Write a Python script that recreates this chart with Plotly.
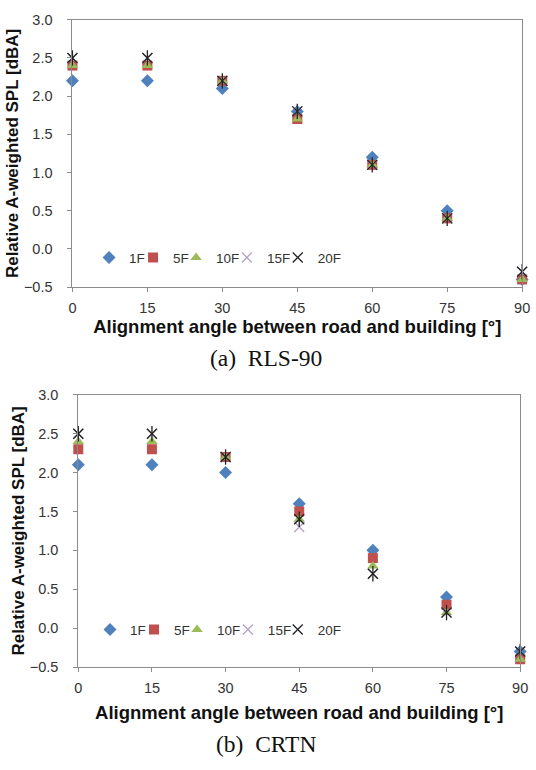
import plotly.graph_objects as go

angles = [0, 15, 30, 45, 60, 75, 90]
series_names = ["1F", "5F", "10F", "15F", "20F"]

rls_1F = [2.2, 2.2, 2.1, 1.8, 1.2, 0.5, -0.4]
rls_5F = [2.4, 2.4, 2.2, 1.7, 1.1, 0.4, -0.4]
rls_10F = [2.4, 2.4, 2.2, 1.7, 1.1, 0.4, -0.4]
rls_15F = [2.5, 2.5, 2.2, 1.8, 1.1, 0.4, -0.3]
rls_20F = [2.5, 2.5, 2.2, 1.8, 1.1, 0.4, -0.3]

crtn_1F = [2.1, 2.1, 2.0, 1.6, 1.0, 0.4, -0.3]
crtn_5F = [2.3, 2.3, 2.2, 1.5, 0.9, 0.3, -0.4]
crtn_10F = [2.4, 2.4, 2.2, 1.4, 0.8, 0.2, -0.4]
crtn_15F = [2.5, 2.5, 2.2, 1.3, 0.7, 0.2, -0.3]
crtn_20F = [2.5, 2.5, 2.2, 1.4, 0.7, 0.2, -0.3]

x_ticks = [0, 15, 30, 45, 60, 75, 90]
y_ticks = [-0.5, 0.0, 0.5, 1.0, 1.5, 2.0, 2.5, 3.0]

styles = {
    "1F": dict(symbol="diamond", color="#4F81BD", size=10),
    "5F": dict(symbol="square", color="#C0504D", size=10),
    "10F": dict(symbol="triangle-up", color="#9BBB59", size=10),
    "15F": dict(symbol="x-thin-open", color="#B3A2C7", size=10),
    "20F": dict(symbol="x-thin-open", color="#222222", size=10),
}

H = 770.0
W = 536.0

# legend box left edges (px) for each panel, and vertical centre
legend_x_a = [87, 132, 176, 228, 280]
legend_x_b = [88, 133, 177, 229, 280]
legend_y_a = 255
legend_y_b = 635

fig = go.Figure()

panels = [
    ("x", "y", 0, [rls_1F, rls_5F, rls_10F, rls_15F, rls_20F]),
    ("x2", "y2", 5, [crtn_1F, crtn_5F, crtn_10F, crtn_15F, crtn_20F]),
]
for xa, ya, off, data in panels:
    for i, (name, vals) in enumerate(zip(series_names, data)):
        lg = "legend%d" % (off + i + 2)
        st = styles[name]
        marker = dict(symbol=st["symbol"], size=st["size"], color=st["color"])
        if "open" in st["symbol"]:
            marker["line"] = dict(color=st["color"], width=1.3)
        else:
            marker["line"] = dict(width=0)
        fig.add_trace(go.Scatter(
            x=angles, y=vals, mode="markers", name=name, marker=marker,
            xaxis=xa, yaxis=ya, legend=lg, legendgroup=lg, cliponaxis=False,
            showlegend=True,
        ))
        if name == "20F":
            # vertical stroke completing the asterisk-like marker
            fig.add_trace(go.Scatter(
                x=angles, y=vals, mode="markers", name=name, showlegend=False,
                marker=dict(symbol="line-ns-open", size=11, color=st["color"],
                            line=dict(color=st["color"], width=1.3)),
                xaxis=xa, yaxis=ya, legend=lg, legendgroup=lg, cliponaxis=False,
            ))

tick_font = dict(family="Liberation Sans, Arial", size=14.5, color="#333333")
axis_common = dict(
    showgrid=False, zeroline=False, showline=True, linecolor="#8C8C8C",
    linewidth=1, mirror=True, ticks="outside", ticklen=4, tickcolor="#8C8C8C",
    tickfont=tick_font, ticklabeloverflow="allow",
)
xtitle_font = dict(family="Liberation Sans, Arial", size=18.5, color="#111111")
ytitle_font = dict(family="Liberation Sans, Arial", size=17, color="#111111")
xtitle = "<b>Alignment angle between road and building [°]</b>"
ytitle = "<b>Relative A-weighted SPL [dBA]</b>"

legend_common = dict(orientation="h", xanchor="left", yanchor="middle",
                     bgcolor="rgba(0,0,0,0)", itemwidth=30, tracegroupgap=0,
                     font=dict(family="Liberation Sans, Arial", size=13.5, color="#333333"))
legends = {}
for i, px in enumerate(legend_x_a + legend_x_b):
    key = "legend%d" % (i + 2)
    py = legend_y_a if i < 5 else legend_y_b
    legends[key] = dict(x=px / W, y=1 - py / H, **legend_common)

fig.update_layout(
    width=536, height=770, margin=dict(l=0, r=0, t=0, b=0),
    paper_bgcolor="white", plot_bgcolor="white", showlegend=True,
    xaxis=dict(domain=[70 / W, 530 / W], range=[0, 90], tickvals=x_ticks,
               anchor="y", ticklabelstandoff=4,
               title=dict(text=xtitle, font=xtitle_font, standoff=4), **axis_common),
    yaxis=dict(domain=[1 - 285 / H, 1 - 12 / H], range=[-0.5, 3.0], tickvals=y_ticks,
               tickformat=".1f", anchor="x", ticklabelstandoff=12,
               title=dict(text=ytitle, font=ytitle_font, standoff=0), **axis_common),
    xaxis2=dict(domain=[76 / W, 528 / W], range=[0, 90], tickvals=x_ticks,
                anchor="y2", ticklabelstandoff=4,
                title=dict(text=xtitle, font=xtitle_font, standoff=10), **axis_common),
    yaxis2=dict(domain=[1 - 673 / H, 1 - 395 / H], range=[-0.5, 3.0], tickvals=y_ticks,
                tickformat=".1f", anchor="x2", ticklabelstandoff=12,
                title=dict(text=ytitle, font=ytitle_font, standoff=0), **axis_common),
    annotations=[
        dict(text="(a)  RLS-90", x=0.5, y=1 - 357 / H, xref="paper", yref="paper",
             xanchor="center", yanchor="middle", showarrow=False,
             font=dict(family="Liberation Serif, Times New Roman", size=23.5, color="#111111")),
        dict(text="(b)  CRTN", x=0.5, y=1 - 752 / H, xref="paper", yref="paper",
             xanchor="center", yanchor="middle", showarrow=False,
             font=dict(family="Liberation Serif, Times New Roman", size=23.5, color="#111111")),
    ],
    **legends,
)

fig.write_html("out.html")
